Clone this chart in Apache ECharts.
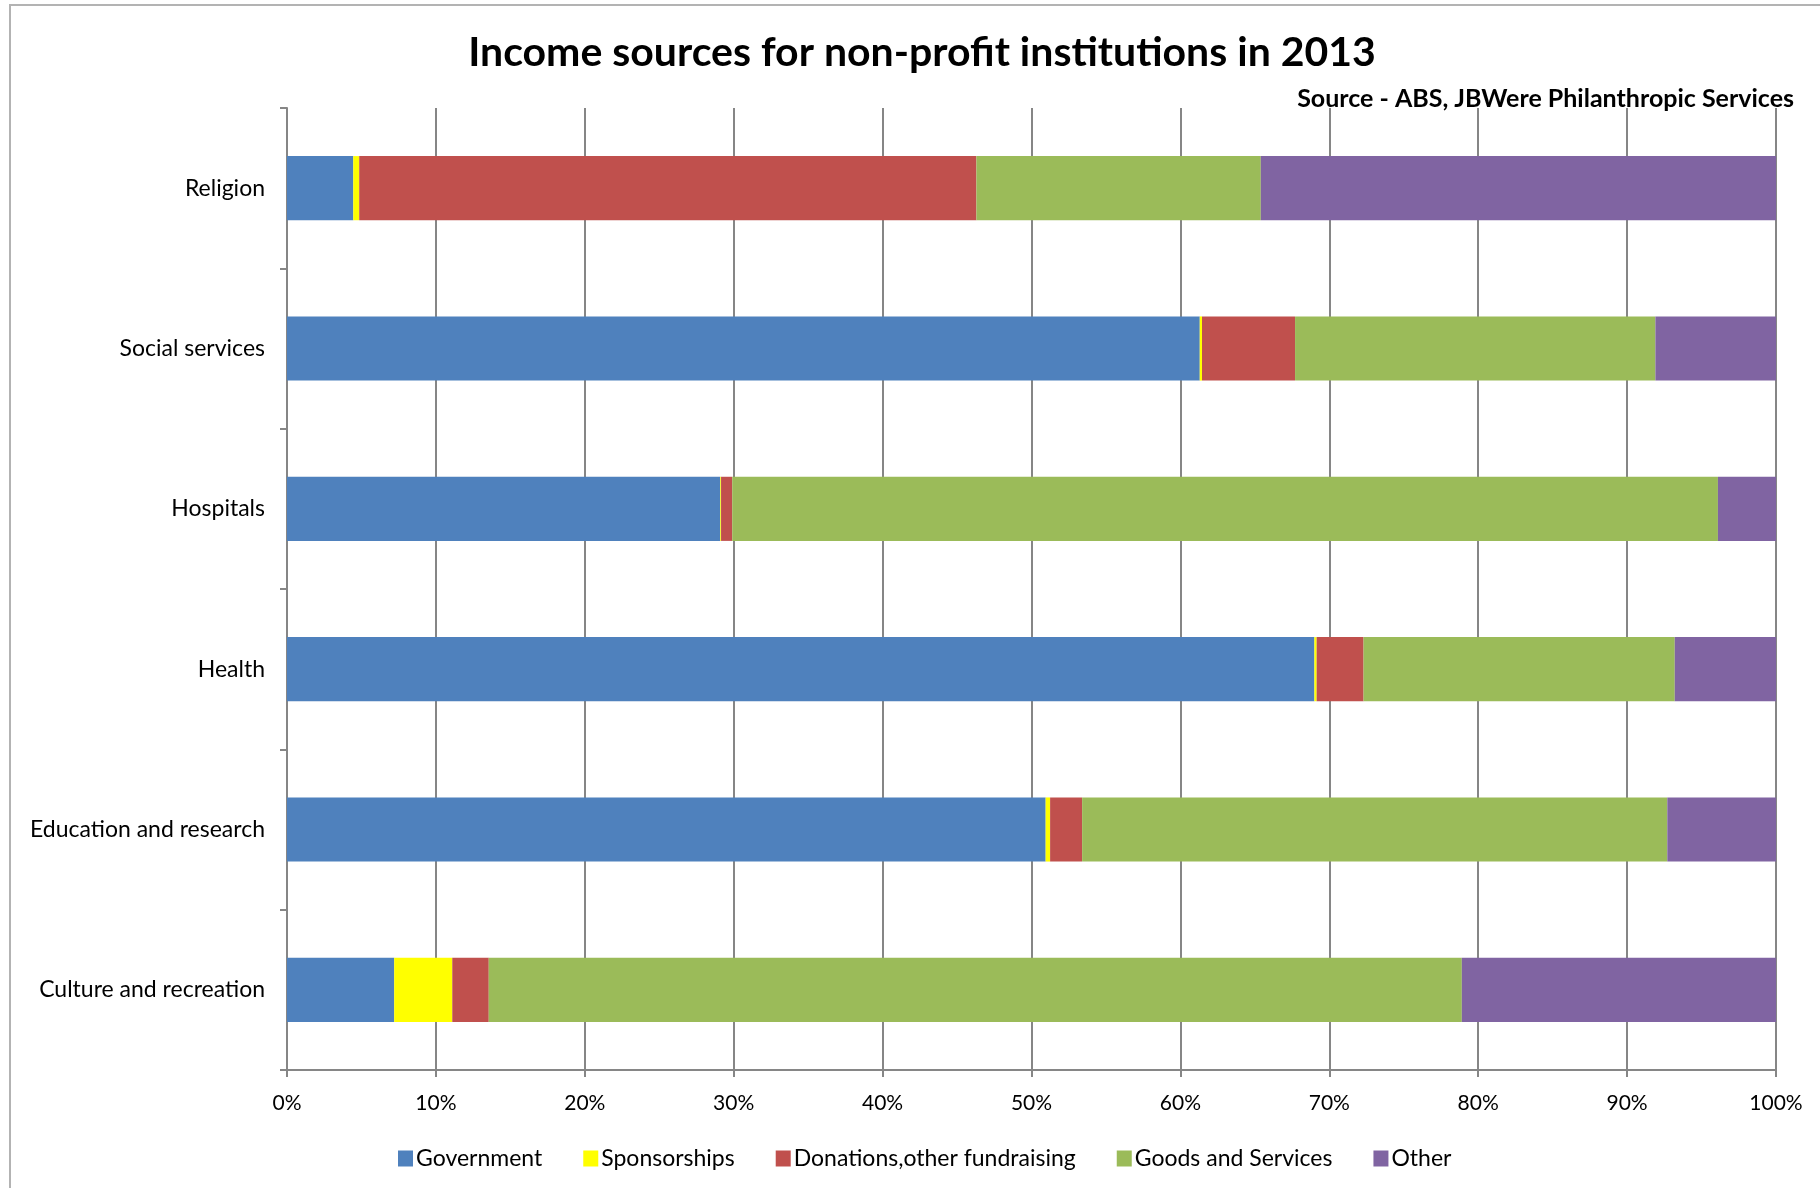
<!DOCTYPE html>
<html>
<head>
<meta charset="utf-8">
<title>Income sources for non-profit institutions in 2013</title>
<script src="https://cdn.jsdelivr.net/npm/echarts@6/dist/echarts.min.js"></script>
<style>
  html, body { margin: 0; padding: 0; background: #fff; }
  #chart { width: 1820px; height: 1188px; }
</style>
</head>
<body>
<div id="chart"></div>
<script>
// Sectors, listed top to bottom
const categories = ['Religion', 'Social services', 'Hospitals', 'Health', 'Education and research', 'Culture and recreation'];

// Share of income (%) by source, same order as categories
const government   = [4.45, 61.3, 29.1, 69.0, 50.95, 7.2];
const sponsorships = [0.4, 0.15, 0.05, 0.15, 0.3, 3.9];
const donations    = [41.45, 6.25, 0.75, 3.15, 2.15, 2.45];
const goodsServices = [19.1, 24.2, 66.2, 20.9, 39.3, 65.35];
const other        = [34.6, 8.1, 3.9, 6.8, 7.3, 21.1];

const xTicks = [0, 10, 20, 30, 40, 50, 60, 70, 80, 90, 100];

const FONT = 'Lato, "Open Sans", sans-serif';

const seriesDefs = [
  { name: 'Government', data: government, color: '#4F81BD' },
  { name: 'Sponsorships', data: sponsorships, color: '#FFFF00' },
  { name: 'Donations,other fundraising', data: donations, color: '#C0504D' },
  { name: 'Goods and Services', data: goodsServices, color: '#9BBB59' },
  { name: 'Other', data: other, color: '#8064A2' }
];

const chart = echarts.init(document.getElementById('chart'), null, { renderer: 'canvas' });

chart.setOption({
  backgroundColor: '#ffffff',
  animation: false,
  textStyle: { fontFamily: FONT },
  graphic: [
    {
      type: 'rect',
      shape: { x: 10, y: 5, width: 1830, height: 1200 },
      style: { fill: 'none', stroke: '#b3b3b3', lineWidth: 2 },
      silent: true, z: -10
    },
    {
      type: 'text',
      x: 922, y: 53,
      style: {
        text: 'Income sources for non-profit institutions in 2013',
        font: 'bold 41px ' + FONT,
        fill: '#000',
        textAlign: 'center',
        textVerticalAlign: 'middle'
      }
    },
    {
      type: 'text',
      x: 1794, y: 99,
      style: {
        text: 'Source - ABS, JBWere Philanthropic Services',
        font: 'bold 25px ' + FONT,
        fill: '#000',
        textAlign: 'right',
        textVerticalAlign: 'middle'
      }
    }
  ],
  legend: {
    left: 393,
    top: 1142,
    itemWidth: 15,
    itemHeight: 16,
    itemGap: 41,
    icon: 'rect',
    textStyle: { fontSize: 23, color: '#000', fontFamily: FONT, padding: [0, 0, 0, -2] },
    data: seriesDefs.map(s => s.name)
  },
  grid: {
    left: 287,
    right: 44,
    top: 108,
    bottom: 118,
    containLabel: false
  },
  xAxis: {
    type: 'value',
    min: 0,
    max: 100,
    interval: 10,
    axisLine: { show: true, lineStyle: { color: '#868686', width: 2 } },
    axisTick: { show: true, length: 7, lineStyle: { color: '#868686', width: 2 } },
    splitLine: { show: true, lineStyle: { color: '#868686', width: 2 } },
    axisLabel: {
      margin: 23,
      fontSize: 21,
      color: '#000',
      fontFamily: FONT,
      formatter: v => (xTicks.indexOf(v) >= 0 ? v + '%' : '')
    }
  },
  yAxis: {
    type: 'category',
    inverse: true,
    data: categories,
    axisLine: { show: true, lineStyle: { color: '#868686', width: 2 } },
    axisTick: { show: true, length: 7, lineStyle: { color: '#868686', width: 2 } },
    splitLine: { show: false },
    axisLabel: { margin: 22, fontSize: 23, color: '#000', fontFamily: FONT, padding: [10, 0, 0, 0] }
  },
  series: seriesDefs.map(s => ({
    name: s.name,
    type: 'bar',
    stack: 'total',
    barWidth: '40%',
    data: s.data,
    itemStyle: { color: s.color },
    emphasis: { disabled: true }
  }))
});
</script>
</body>
</html>
